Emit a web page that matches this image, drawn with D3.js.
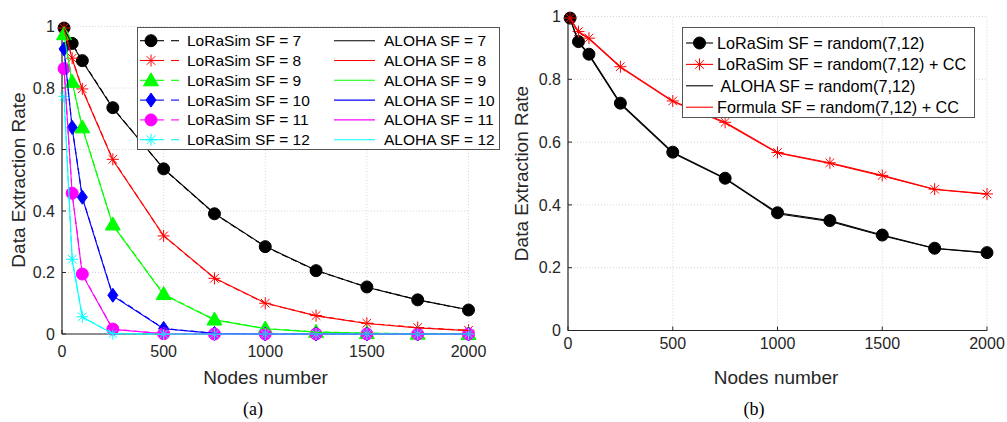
<!DOCTYPE html>
<html>
<head>
<meta charset="utf-8">
<script src="https://cdn.jsdelivr.net/npm/d3@7"></script>
<style>
  body { margin: 0; background: #fff; }
  svg { display: block; font-family: "Liberation Sans", Arial, sans-serif; }
  .tick-label { font-size: 16px; fill: #262626; }
  .axis-label { font-size: 19px; fill: #262626; }
  .legend-text { font-size: 15.5px; fill: #000; white-space: pre; }
  .legend-text.wide { font-size: 16.2px; }
  .caption { font-family: "Liberation Serif", "DejaVu Serif", serif; font-size: 18px; fill: #000; }
</style>
</head>
<body>
<svg id="chart" width="1007" height="422"></svg>
<script>
// x positions (number of nodes)
const nodes = [10, 50, 100, 250, 500, 750, 1000, 1250, 1500, 1750, 2000];
const xTicks = [0, 500, 1000, 1500, 2000];
const yTicks = [0, 0.2, 0.4, 0.6, 0.8, 1];

// panel (a): LoRaSim per SF
const sf7Sim  = [0.995, 0.945, 0.889, 0.736, 0.537, 0.391, 0.284, 0.206, 0.153, 0.111, 0.078];
const sf8Sim  = [0.995, 0.897, 0.797, 0.568, 0.319, 0.181, 0.100, 0.060, 0.035, 0.021, 0.012];
const sf9Sim  = [0.975, 0.820, 0.672, 0.356, 0.130, 0.047, 0.018, 0.007, 0.003, 0.001, 0.000];
const sf10Sim = [0.927, 0.672, 0.445, 0.126, 0.018, 0.002, 0, 0, 0, 0, 0];
const sf11Sim = [0.863, 0.458, 0.195, 0.016, 0.001, 0, 0, 0, 0, 0, 0];
const sf12Sim = [0.773, 0.243, 0.056, 0.001, 0, 0, 0, 0, 0, 0, 0];

// panel (a): ALOHA per SF
const sf7Aloha  = [0.993, 0.942, 0.887, 0.734, 0.538, 0.392, 0.285, 0.207, 0.152, 0.111, 0.079];
const sf8Aloha  = [0.993, 0.895, 0.795, 0.566, 0.320, 0.182, 0.101, 0.059, 0.034, 0.020, 0.011];
const sf9Aloha  = [0.973, 0.818, 0.670, 0.354, 0.128, 0.046, 0.017, 0.006, 0.002, 0.001, 0.000];
const sf10Aloha = [0.925, 0.670, 0.443, 0.124, 0.017, 0.002, 0, 0, 0, 0, 0];
const sf11Aloha = [0.861, 0.456, 0.193, 0.015, 0.001, 0, 0, 0, 0, 0, 0];
const sf12Aloha = [0.771, 0.241, 0.055, 0.001, 0, 0, 0, 0, 0, 0, 0];

const sfLabels = ['7', '8', '9', '10', '11', '12'];

// panel (b): random SF
const randSim     = [0.995, 0.920, 0.880, 0.724, 0.568, 0.485, 0.375, 0.350, 0.304, 0.262, 0.248];
const randCCSim   = [0.995, 0.952, 0.931, 0.840, 0.731, 0.663, 0.567, 0.534, 0.494, 0.450, 0.435];
const randAloha   = [0.993, 0.917, 0.877, 0.721, 0.565, 0.483, 0.372, 0.347, 0.302, 0.261, 0.247];
const randFormula = [0.993, 0.950, 0.929, 0.838, 0.729, 0.661, 0.565, 0.532, 0.492, 0.449, 0.434];

const svg = d3.select('#chart');

// marker drawing helpers
function drawMarker(g, type, x, y, color) {
    if (type === 'circle') {
        g.append('circle').attr('cx', x).attr('cy', y).attr('r', 6)
            .attr('fill', color).attr('stroke', color);
    } else if (type === 'triangle') {
        g.append('path')
            .attr('d', `M${x},${y - 7.5}L${x + 7.5},${y + 5.5}L${x - 7.5},${y + 5.5}Z`)
            .attr('fill', color).attr('stroke', color);
    } else if (type === 'diamond') {
        g.append('path')
            .attr('d', `M${x},${y - 7}L${x + 5},${y}L${x},${y + 7}L${x - 5},${y}Z`)
            .attr('fill', color).attr('stroke', color);
    } else if (type === 'star') {
        const r = 6, d = 4.3;
        g.append('path')
            .attr('d', `M${x - r},${y}H${x + r}M${x},${y - r}V${y + r}` +
                `M${x - d},${y - d}L${x + d},${y + d}M${x - d},${y + d}L${x + d},${y - d}`)
            .attr('fill', 'none').attr('stroke', color).attr('stroke-width', 1);
    }
}

function drawAxes(x, y, xTickBase) {
    const g = svg.append('g');
    const [x0, x1] = x.range();
    const [y0, y1] = y.range();

    // dotted grid
    g.selectAll('.gx').data(xTicks).enter().append('line')
        .attr('x1', d => x(d)).attr('x2', d => x(d))
        .attr('y1', y0).attr('y2', y1)
        .attr('stroke', '#d6d6d6').attr('stroke-dasharray', '1,2');
    g.selectAll('.gy').data(yTicks).enter().append('line')
        .attr('x1', x0).attr('x2', x1)
        .attr('y1', d => y(d)).attr('y2', d => y(d))
        .attr('stroke', '#d6d6d6').attr('stroke-dasharray', '1,2');

    // axis lines
    g.append('line').attr('x1', x0).attr('x2', x1).attr('y1', y0).attr('y2', y0)
        .attr('stroke', '#262626').attr('stroke-width', 1.2);
    g.append('line').attr('x1', x0).attr('x2', x0).attr('y1', y0).attr('y2', y1)
        .attr('stroke', '#262626').attr('stroke-width', 1.2);

    // inward ticks
    g.selectAll('.tx').data(xTicks).enter().append('line')
        .attr('x1', d => x(d)).attr('x2', d => x(d))
        .attr('y1', y0).attr('y2', y0 - 4)
        .attr('stroke', '#262626');
    g.selectAll('.ty').data(yTicks).enter().append('line')
        .attr('x1', x0).attr('x2', x0 + 4)
        .attr('y1', d => y(d)).attr('y2', d => y(d))
        .attr('stroke', '#262626');

    // tick labels
    g.selectAll('.lx').data(xTicks).enter().append('text')
        .attr('class', 'tick-label')
        .attr('x', d => x(d)).attr('y', xTickBase)
        .attr('text-anchor', 'middle')
        .text(d => d);
    g.selectAll('.ly').data(yTicks).enter().append('text')
        .attr('class', 'tick-label')
        .attr('x', x0 - 7).attr('y', d => y(d))
        .attr('dy', '0.36em')
        .attr('text-anchor', 'end')
        .text(d => d);
    return g;
}

function drawLine(g, x, y, values, color, dashed) {
    const line = d3.line().x((d, i) => x(nodes[i])).y(d => y(d));
    g.append('path').datum(values)
        .attr('d', line)
        .attr('fill', 'none')
        .attr('stroke', color)
        .attr('stroke-width', 1.1)
        .attr('stroke-dasharray', dashed ? '6,4' : null);
}

// ---------- panel (a) ----------
const xA = d3.scaleLinear().domain([0, 2000]).range([62, 468.5]);
const yA = d3.scaleLinear().domain([0, 1]).range([334, 26.5]);
drawAxes(xA, yA, 357);

const colorsA = ['#000000', '#ff0000', '#00ff00', '#0000ff', '#ff00ff', '#00ffff'];
const markersA = ['circle', 'star', 'triangle', 'diamond', 'circle', 'star'];
const simA = [sf7Sim, sf8Sim, sf9Sim, sf10Sim, sf11Sim, sf12Sim];
const alohaA = [sf7Aloha, sf8Aloha, sf9Aloha, sf10Aloha, sf11Aloha, sf12Aloha];

const plotA = svg.append('g');
simA.forEach((vals, k) => {
    drawLine(plotA, xA, yA, vals, colorsA[k], true);
    vals.forEach((v, i) => drawMarker(plotA, markersA[k], xA(nodes[i]), yA(v), colorsA[k]));
});
alohaA.forEach((vals, k) => drawLine(plotA, xA, yA, vals, colorsA[k], false));

// legend (a)
const legA = svg.append('g');
legA.append('rect').attr('x', 137.5).attr('y', 27.5).attr('width', 362).attr('height', 122)
    .attr('fill', '#fff').attr('stroke', '#555').attr('stroke-width', 1);
sfLabels.forEach((sf, k) => {
    const cy = 40.7 + k * 19.8;
    legA.append('line').attr('x1', 140).attr('x2', 164).attr('y1', cy).attr('y2', cy)
        .attr('stroke', colorsA[k]).attr('stroke-width', 1.1);
    legA.append('line').attr('x1', 171).attr('x2', 179).attr('y1', cy).attr('y2', cy)
        .attr('stroke', colorsA[k]).attr('stroke-width', 1.1);
    drawMarker(legA, markersA[k], 151, cy, colorsA[k]);
    legA.append('text').attr('class', 'legend-text')
        .attr('x', 187).attr('y', cy).attr('dy', '0.36em')
        .text('LoRaSim SF = ' + sf);
    legA.append('line').attr('x1', 334).attr('x2', 375).attr('y1', cy).attr('y2', cy)
        .attr('stroke', colorsA[k]).attr('stroke-width', 1.1);
    legA.append('text').attr('class', 'legend-text')
        .attr('x', 384).attr('y', cy).attr('dy', '0.36em')
        .text('ALOHA SF = ' + sf);
});

svg.append('text').attr('class', 'axis-label')
    .attr('x', 265.5).attr('y', 384).attr('text-anchor', 'middle')
    .text('Nodes number');
svg.append('text').attr('class', 'axis-label')
    .attr('transform', 'translate(25,180) rotate(-90)')
    .attr('text-anchor', 'middle')
    .text('Data Extraction Rate');
svg.append('text').attr('class', 'caption')
    .attr('x', 253).attr('y', 415).attr('text-anchor', 'middle')
    .text('(a)');

// ---------- panel (b) ----------
const xB = d3.scaleLinear().domain([0, 2000]).range([568, 987]);
const yB = d3.scaleLinear().domain([0, 1]).range([330.5, 16.5]);
drawAxes(xB, yB, 349);

const plotB = svg.append('g');
drawLine(plotB, xB, yB, randSim, '#000000', false);
randSim.forEach((v, i) => drawMarker(plotB, 'circle', xB(nodes[i]), yB(v), '#000000'));
drawLine(plotB, xB, yB, randCCSim, '#ff0000', false);
randCCSim.forEach((v, i) => drawMarker(plotB, 'star', xB(nodes[i]), yB(v), '#ff0000'));
drawLine(plotB, xB, yB, randAloha, '#000000', false);
drawLine(plotB, xB, yB, randFormula, '#ff0000', false);

// legend (b)
const legB = svg.append('g');
legB.append('rect').attr('x', 682.5).attr('y', 27.5).attr('width', 292).attr('height', 90)
    .attr('fill', '#fff').attr('stroke', '#555').attr('stroke-width', 1);
const legBItems = [
    { label: 'LoRaSim SF = random(7,12)', color: '#000000', marker: 'circle' },
    { label: 'LoRaSim SF = random(7,12) + CC', color: '#ff0000', marker: 'star' },
    { label: ' ALOHA SF = random(7,12)', color: '#000000', marker: null },
    { label: 'Formula SF = random(7,12) + CC', color: '#ff0000', marker: null }
];
legBItems.forEach((item, k) => {
    const cy = 43 + k * 21.4;
    legB.append('line').attr('x1', 686).attr('x2', 713).attr('y1', cy).attr('y2', cy)
        .attr('stroke', item.color).attr('stroke-width', 1.1);
    if (item.marker) drawMarker(legB, item.marker, 699.5, cy, item.color);
    legB.append('text').attr('class', 'legend-text wide')
        .attr('x', 717).attr('y', cy).attr('dy', '0.36em')
        .text(item.label);
});

svg.append('text').attr('class', 'axis-label')
    .attr('x', 776).attr('y', 384).attr('text-anchor', 'middle')
    .text('Nodes number');
svg.append('text').attr('class', 'axis-label')
    .attr('transform', 'translate(527.5,173.5) rotate(-90)')
    .attr('text-anchor', 'middle')
    .text('Data Extraction Rate');
svg.append('text').attr('class', 'caption')
    .attr('x', 754).attr('y', 415).attr('text-anchor', 'middle')
    .text('(b)');
</script>
</body>
</html>
